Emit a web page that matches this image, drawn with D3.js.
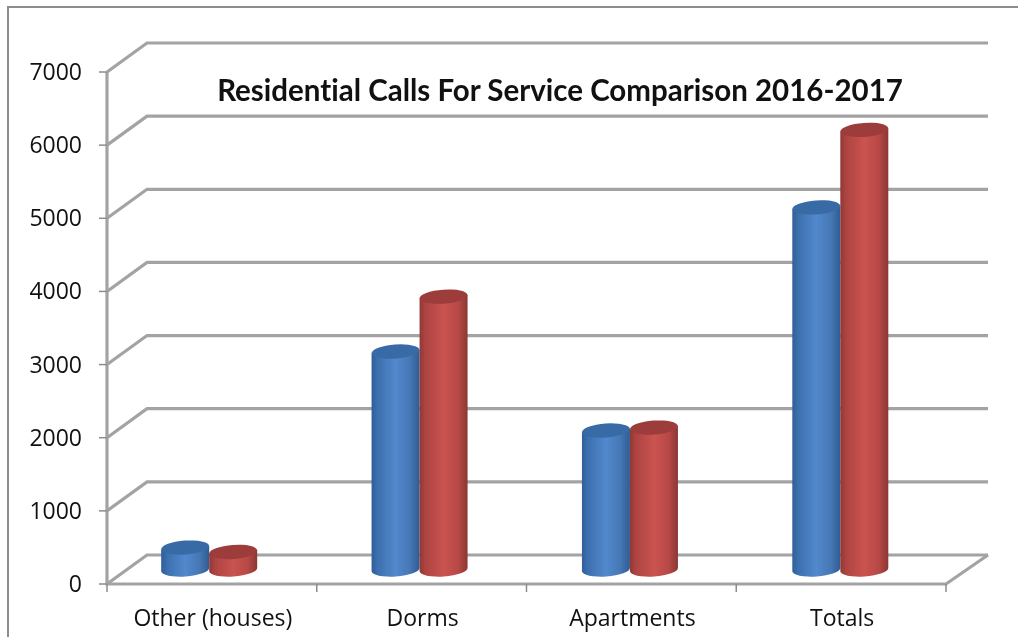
<!DOCTYPE html>
<html><head><meta charset="utf-8">
<script src="https://cdn.jsdelivr.net/npm/d3@7/dist/d3.min.js"></script>
<style>html,body{margin:0;padding:0;background:#fff;overflow:hidden}svg{display:block}text{font-family:"Open Sans",Lato,sans-serif;fill:#111;font-variant-ligatures:none}</style>
</head><body><div id="c"></div>
<script>
const categories = ["Other (houses)", "Dorms", "Apartments", "Totals"];
const series2016 = [300, 2980, 1900, 4950];
const series2017 = [240, 3730, 1940, 6010];
const yTicks = [0, 1000, 2000, 3000, 4000, 5000, 6000, 7000];
const titleText = "Residential Calls For Service Comparison 2016-2017";

const W = 1018, H = 637;
const svg = d3.select("#c").append("svg").attr("width", W).attr("height", H);
const defs = svg.append("defs");
function grad(id, stops) {
  const g = defs.append("linearGradient").attr("id", id).attr("x1", 0).attr("x2", 1).attr("y1", 0).attr("y2", 0);
  stops.forEach(s => g.append("stop").attr("offset", s[0]).attr("stop-color", s[1]));
}
grad("blueBody", [[0, "#2f5f97"], [0.12, "#3c6fae"], [0.5, "#5289cd"], [0.8, "#4677b5"], [1, "#2f5c92"]]);
grad("redBody", [[0, "#8e3835"], [0.12, "#ad4441"], [0.5, "#ca5350"], [0.8, "#b84946"], [1, "#8b3633"]]);
defs.append("filter").attr("id", "soft").attr("filterUnits", "userSpaceOnUse")
  .attr("x", 0).attr("y", 0).attr("width", W).attr("height", H)
  .append("feGaussianBlur").attr("stdDeviation", 0.5);

const depthX = 40, depthY = -29;
const x = d3.scaleBand().domain(categories).range([107, 946]);
const barX = d3.scaleBand().domain(categories).range([104, 945.5]);
const inner = d3.scaleBand().domain([0, 1]).range([0, 96]);
const y = d3.scaleLinear().domain([0, 7000]).range([584, 72]);
const gridColor = "#a3a3a3";

// frame
svg.append("path").attr("d", `M8,${H + 2}V7H${W + 2}`).attr("fill", "none").attr("stroke", "#8c8c8c").attr("stroke-width", 2);

// walls
const wall = svg.append("g").attr("fill", "none").attr("stroke", gridColor).attr("stroke-width", 3.2).attr("stroke-linejoin", "miter").attr("filter", "url(#soft)");
wall.selectAll("path.grid").data(yTicks).join("path").attr("class", "grid")
  .attr("d", t => `M107,${y(t)}L${107 + depthX},${y(t) + depthY}H${946 + depthX + 2}`);
wall.append("path").attr("d", `M107,${y(7000)}V${y(0)}H946L${946 + depthX + 2},${y(0) + depthY}`);

// ticks
const tickG = svg.append("g").attr("stroke", "#8c8c8c").attr("stroke-width", 1.5);
tickG.selectAll("line.y").data(yTicks).join("line").attr("class", "y")
  .attr("x1", 99).attr("x2", 107).attr("y1", d => y(d)).attr("y2", d => y(d));
tickG.selectAll("line.x").data(d3.range(categories.length + 1)).join("line").attr("class", "x")
  .attr("x1", i => i < categories.length ? x(categories[i]) : 946)
  .attr("x2", i => i < categories.length ? x(categories[i]) : 946)
  .attr("y1", y(0)).attr("y2", y(0) + 8);

// bars
const rows = categories.flatMap((c, i) => [
  { c, s: 0, v: series2016[i] }, { c, s: 1, v: series2017[i] }
]);
const rx = inner.bandwidth() / 2, ry = 7, tilt = -4;
const yOff = depthY * 0.5;
const rad = tilt * Math.PI / 180;
const dy = rx * Math.sin(rad);
const bars = svg.append("g").attr("filter", "url(#soft)").selectAll("g").data(rows).join("g")
  .attr("transform", d => `translate(${barX(d.c) + barX.bandwidth() / 2 - 2 * rx + inner(d.s)},0)`);
bars.append("path")
  .attr("fill", d => d.s ? "url(#redBody)" : "url(#blueBody)")
  .attr("d", d => {
    const t = y(d.v) + yOff, b = y(0) + yOff;
    return `M0,${t - dy}L0,${b - dy}A${rx},${ry} ${tilt} 0 0 ${2 * rx},${b + dy}L${2 * rx},${t + dy}Z`;
  });
bars.append("ellipse")
  .attr("cx", rx).attr("cy", d => y(d.v) + yOff).attr("rx", rx).attr("ry", ry)
  .attr("transform", d => `rotate(${tilt} ${rx} ${y(d.v) + yOff})`)
  .attr("fill", d => d.s ? "#9c3d3a" : "#376ba6");

// labels
svg.append("g").selectAll("text").data(yTicks).join("text")
  .attr("x", 82).attr("y", d => y(d) + 8).attr("text-anchor", "end").attr("font-size", 23).text(d => d);
svg.append("g").selectAll("text").data(categories).join("text")
  .attr("x", d => x(d) + x.bandwidth() / 2 + 1).attr("y", 626).attr("text-anchor", "middle").attr("font-size", 23).text(d => d);
svg.append("text").attr("x", 560).attr("y", 101).attr("text-anchor", "middle").attr("font-size", 29.5).attr("font-weight", 700)
  .style("font-family", "Lato").text(titleText);
</script></body></html>
